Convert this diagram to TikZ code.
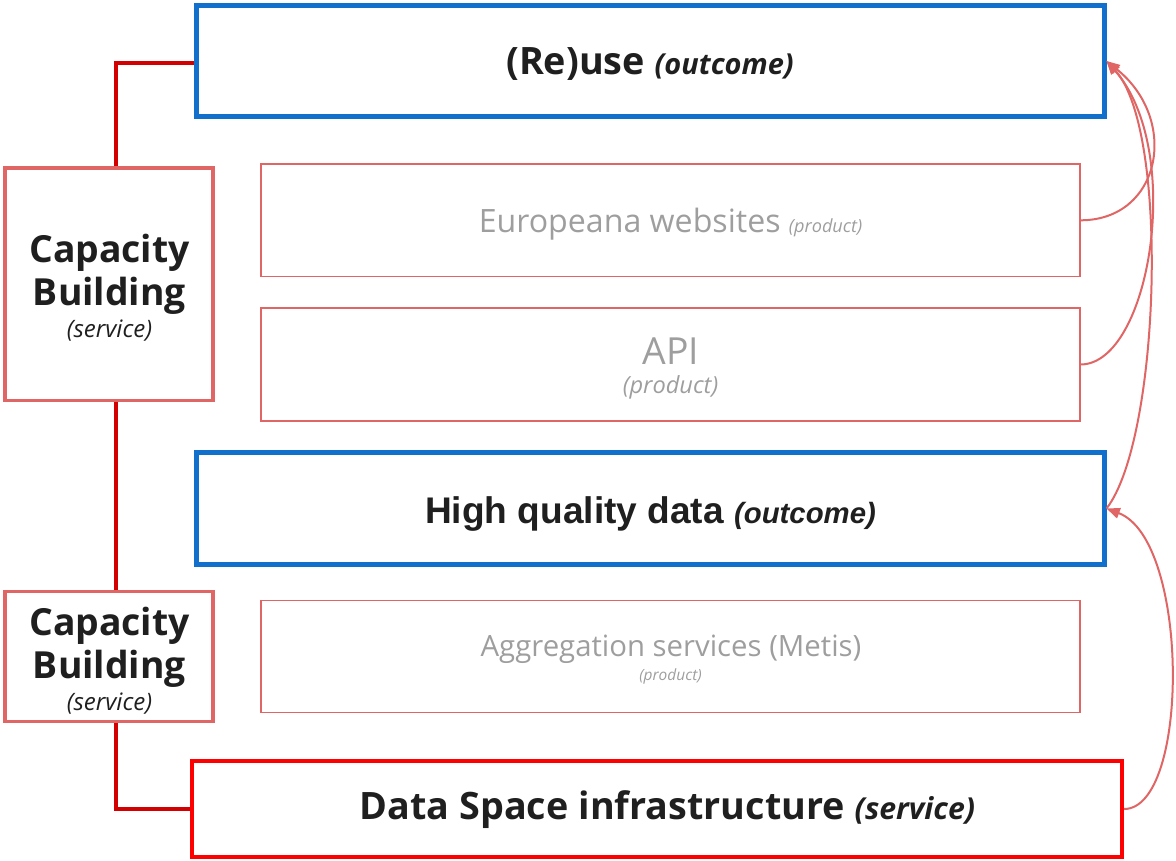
\documentclass[tikz,border=0pt]{standalone}
\usepackage{fontspec}
\setmainfont{Liberation Sans}
\newfontfamily\osans{Open Sans}
\usetikzlibrary{arrows.meta}
\definecolor{oblue}{HTML}{1170CC}
\definecolor{lred}{HTML}{E06666}
\definecolor{dred}{HTML}{D20000}
\definecolor{bred}{HTML}{FF0000}
\definecolor{gtext}{HTML}{9E9E9E}
\definecolor{dtext}{HTML}{1F1F1F}
\newcommand{\fsz}[1]{\fontsize{#1}{#1}\selectfont}
\begin{document}
\begin{tikzpicture}[x=0.75pt,y=-0.75pt,
  box/.style={draw, rectangle, inner sep=0pt},
  outcome/.style={box, draw=oblue, line width=3.75pt},
  product/.style={box, draw=lred, line width=1.1pt},
  capbox/.style={box, draw=lred, line width=2.3pt},
  infra/.style={box, draw=bred, line width=3pt},
  link/.style={draw=dred, line width=2.3pt},
  flow/.style={draw=lred, line width=1.5pt, -{Triangle[length=10pt,width=8pt]}},
  lbl/.style={anchor=base, inner sep=0pt, text=dtext},
  glbl/.style={anchor=base, inner sep=0pt, text=gtext}]
\useasboundingbox (0,0) rectangle (1176,860);
% boxes
\node[outcome, minimum width=681pt, minimum height=83.25pt] (reuse) at (650,61) {};
\node[product, minimum width=614.25pt, minimum height=84.4pt] (euro) at (670.5,220.3) {};
\node[product, minimum width=614.25pt, minimum height=84.75pt] (api) at (670.5,364.5) {};
\node[outcome, minimum width=681pt, minimum height=84pt] (hq) at (650,508.5) {};
\node[product, minimum width=614.25pt, minimum height=84pt] (agg) at (670.5,656.7) {};
\node[capbox, minimum width=156pt, minimum height=174.5pt] (cap1) at (109,284.3) {};
\node[capbox, minimum width=156pt, minimum height=97.5pt] (cap2) at (109,656.7) {};
\node[infra, minimum width=697.5pt, minimum height=72pt] (data) at (657,809) {};
% texts
\node[lbl, font=\osans\bfseries\fsz{28.3pt}] (treuse) at (650,74) {(Re)use {\itshape\fsz{21.7pt}(outcome)}};
\node[glbl, font=\osans\fsz{24.1pt}] (teuro) at (670.5,232) {Europeana websites {\itshape\fsz{13.6pt}(product)}};
\node[glbl, font=\osans\fsz{28pt}] (tapi) at (671,364.5) {API};
\node[glbl, font=\osans\itshape\fsz{17.7pt}] (tapip) at (670.5,393) {(product)};
\node[lbl, font=\bfseries\fsz{27.8pt}] (thq) at (650.5,523.3) {High quality data {\itshape\fsz{22pt}(outcome)}};
\node[glbl, font=\osans\fsz{22pt}] (tagg) at (671,656.7) {Aggregation services (Metis)};
\node[glbl, font=\osans\itshape\fsz{11.6pt}] (taggp) at (670.5,680) {(product)};
\node[lbl, font=\osans\bfseries\fsz{28.3pt}] (tdata) at (667.5,819.3) {Data Space infrastructure {\itshape\fsz{22.7pt}(service)}};
\node[lbl, font=\osans\bfseries\fsz{28pt}] (tcap1a) at (109.5,262) {Capacity};
\node[lbl, font=\osans\bfseries\fsz{28pt}] (tcap1b) at (109.5,305) {Building};
\node[lbl, font=\osans\itshape\fsz{18pt}] (tcap1c) at (109.5,337) {(service)};
\node[lbl, font=\osans\bfseries\fsz{28pt}] (tcap2a) at (109.5,635.7) {Capacity};
\node[lbl, font=\osans\bfseries\fsz{28pt}] (tcap2b) at (109.5,678.5) {Building};
\node[lbl, font=\osans\itshape\fsz{18pt}] (tcap2c) at (109.5,710) {(service)};
% left connectors
\draw[link] ([xshift=5.25pt]cap1.north) |- ([yshift=-1.5pt]reuse.west);
\draw[link] ([xshift=5.25pt]cap1.south) -- ([xshift=5.25pt]cap2.north);
\draw[link] ([xshift=5.25pt]cap2.south) |- (data.west);
% right flows
\draw[flow] (euro.east) .. controls (1161,220) and (1180,120) .. (reuse.east);
\draw[flow] (api.east) .. controls (1150,364) and (1185,150) .. (reuse.east);
\draw[flow] (hq.east) .. controls (1160,440) and (1170,130) .. (reuse.east);
\draw[flow] (data.east) .. controls (1190,809) and (1190,540) .. (hq.east);
\end{tikzpicture}
\end{document}
